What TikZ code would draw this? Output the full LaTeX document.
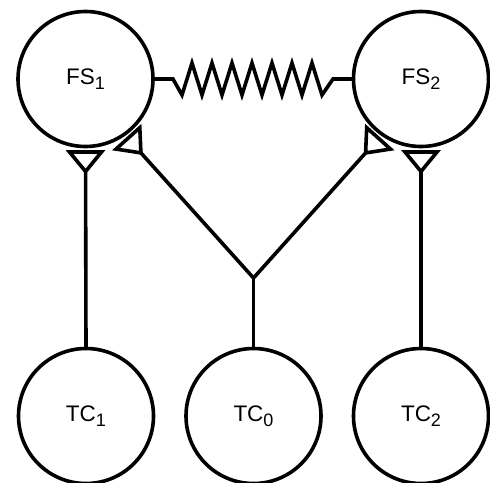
\documentclass[tikz,border=0pt]{standalone}
\usepackage{fontspec}
\setmainfont{Liberation Sans}
\usetikzlibrary{calc}
\newcommand{\lbl}[2]{\fontsize{22.5}{24}\selectfont #1\raisebox{-4.5pt}{\fontsize{18}{18}\selectfont #2}}
% open reversed triangle tip: #1 = border point of target, #2 = source
\newcommand{\tipline}[2]{%
  \path ($(#1)!5.5pt!(#2)$) coordinate (te) ($(#1)!25pt!(#2)$) coordinate (ta);
  \draw[link] (#2) -- (ta);
  \draw[link,line join=miter] (ta) -- ($(te)!16pt!90:(ta)$) -- ($(te)!16pt!-90:(ta)$) -- cycle;}
\begin{document}
\begin{tikzpicture}[x=1pt,y=-1pt,
  state/.style={circle,draw,line width=3.6pt,minimum size=135pt,inner sep=0pt,outer sep=0pt},
  link/.style={line width=3.6pt}]
\useasboundingbox (0,0) rectangle (490,482);
\node[state] (FS1) at (85.5,79) {\lbl{FS}{1}};
\node[state] (FS2) at (421,79) {\lbl{FS}{2}};
\node[state] (TC1) at (86,416) {\lbl{TC}{1}};
\node[state] (TC0) at (253.5,416) {\lbl{TC}{0}};
\node[state] (TC2) at (421,416) {\lbl{TC}{2}};
\coordinate (J) at (253.5,278);
% spring
\draw[link,line join=miter] (FS1.east) -- (173,79)
  \foreach \k in {0,...,6} { -- ({182+20*\k},95) -- ({192+20*\k},63) }
  -- (322,95) -- (333,79) -- (FS2.west);
% connectors
\tipline{FS1.south}{TC1.north}
\tipline{FS2.south}{TC2.north}
\draw[link] (TC0.north) -- (J);
\tipline{FS1.-55}{J}
\tipline{FS2.-125}{J}
\end{tikzpicture}
\end{document}
